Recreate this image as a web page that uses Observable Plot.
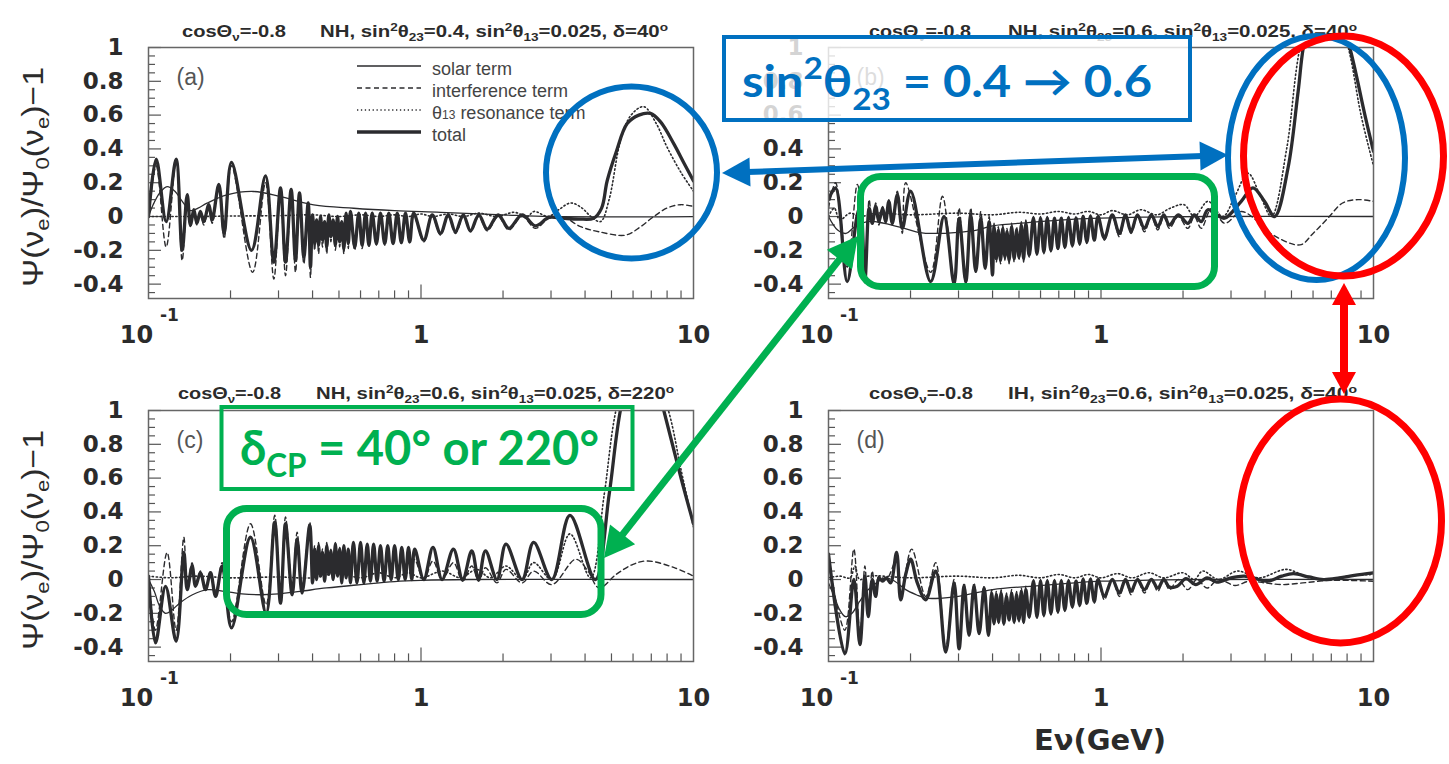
<!DOCTYPE html>
<html><head><meta charset="utf-8">
<script src="https://cdn.jsdelivr.net/npm/d3@7"></script>
<script src="https://cdn.jsdelivr.net/npm/@observablehq/plot@0.6"></script>
<style>
html,body{margin:0;padding:0;background:#fff}
body{width:1449px;height:764px;overflow:hidden;position:relative}
.pan{position:absolute}
#ov{position:absolute;left:0;top:0;pointer-events:none}
</style></head><body>
<div id="pa" class="pan" style="left:0;top:0"></div>
<div id="pb" class="pan" style="left:680px;top:0"></div>
<div id="pc" class="pan" style="left:0;top:363px"></div>
<div id="pd" class="pan" style="left:680px;top:363px"></div>
<svg id="ov" width="1449" height="764"></svg>
<script>
// ---------- axis ticks ----------
const yTicks = [-0.4, -0.2, 0, 0.2, 0.4, 0.6, 0.8, 1];
const yMinor = [-0.45, -0.35, -0.3, -0.25, -0.15, -0.1, -0.05, 0.05, 0.1, 0.15, 0.25, 0.3, 0.35, 0.45, 0.5, 0.55, 0.65, 0.7, 0.75, 0.85, 0.9, 0.95];
const xMajor = [1];
const xMinor = [0.2, 0.3, 0.4, 0.5, 0.6, 0.7, 0.8, 0.9, 2, 3, 4, 5, 6, 7, 8, 9];
const xLabels = [1, 10];

// ---------- panel (a): NH, sin2th23=0.4, delta=40 ----------
const aSolar = [[0.1,0.0],[0.104,0.07],[0.11,0.14],[0.117,0.177],[0.125,0.15],[0.133,0.09],[0.1426,0.035],[0.152,0.05],[0.164,0.079],[0.194,0.128],[0.243,0.148],[0.305,0.118],[0.404,0.069],[0.566,0.049],[0.8,0.035],[1.18,0.025],[2.0,0.01],[3.0,0.0],[10,0.0]];
const aInter = [[0.1,0.0],[0.1067,0.30],[0.1161,-0.18],[0.1263,0.33],[0.1329,-0.26],[0.1387,0.10],[0.1425,-0.06],[0.1467,0.03],[0.1505,-0.05],[0.155,0.02],[0.1595,-0.05],[0.1665,0.05],[0.1712,-0.04],[0.1812,0.17],[0.1895,-0.13],[0.2017,0.30],[0.241,-0.33],[0.2688,0.20],[0.2884,-0.37],[0.3051,0.14],[0.3183,-0.35],[0.3338,0.12],[0.3463,-0.33],[0.3582,0.10],[0.3716,-0.28],[0.3855,0.05],[0.393,-0.36],
 [0.40,0.0],[0.407,-0.2],[0.414,-0.03],[0.421,-0.22],[0.428,-0.01],[0.435,-0.18],[0.443,-0.04],[0.451,-0.22],[0.459,0.0],[0.467,-0.15],[0.476,-0.03],[0.485,-0.2],[0.494,-0.01],[0.503,-0.18],[0.512,-0.04],[0.521,-0.22],[0.531,0.01],[0.541,-0.19],[0.551,0.02],
 [0.571,-0.2],[0.591,0.01],[0.608,-0.19],[0.626,0.01],[0.644,-0.18],[0.662,0.01],[0.686,-0.17],[0.71,0.01],[0.736,-0.17],[0.762,0.01],[0.79,-0.16],[0.818,0.01],[0.847,-0.16],[0.877,0.01],[0.909,-0.155],[0.94,0.01],[1.024,-0.15],[1.10,0.0],[1.179,-0.11],[1.26,0.0],[1.338,-0.1],[1.43,0.0],[1.519,-0.09],[1.63,0.0],[1.75,-0.085],[1.92,0.0],[2.10,-0.08],[2.35,0.0],[2.63,-0.07],[2.95,-0.01],[3.3,0.0],[3.85,-0.06],[4.5,-0.09],[5.63,-0.11],[6.4,-0.06],[7.15,0.0],[8.0,0.05],[8.96,0.07],[10,0.06]];
const aReson = [[0.1,0.0],[0.15,0.0],[0.2,0.003],[0.3,0.005],[0.4,0.01],[0.5,0.0],[0.6,0.01],[0.7,0.0],[0.8,0.01],[0.9,0.0],[1.0,0.015],[1.1,0.0],[1.26,0.015],[1.43,0.0],[1.63,0.02],[1.9,0.0],[2.2,0.025],[2.45,0.0],[2.6,0.03],[2.93,0.0],[3.2,0.04],[3.54,0.08],[3.9,0.05],[4.2,0.0],[4.56,-0.03],[4.9,0.1],[5.4,0.45],[5.9,0.6],[6.57,0.65],[7.3,0.55],[8.0,0.41],[9.0,0.26],[10,0.15]];
const aTotal = [[0.1,0.0],[0.1067,0.34],[0.1161,-0.03],[0.1263,0.34],[0.1329,-0.20],[0.1387,0.13],[0.1425,-0.05],[0.1467,0.04],[0.1505,-0.04],[0.155,0.03],[0.1595,-0.03],[0.1665,0.07],[0.1712,-0.02],[0.1812,0.19],[0.1895,-0.10],[0.2017,0.32],[0.2388,-0.20],[0.2688,0.24],[0.2884,-0.27],[0.3051,0.17],[0.3183,-0.27],[0.3338,0.16],[0.3463,-0.26],[0.3582,0.14],[0.3716,-0.24],[0.3855,0.08],[0.393,-0.30],
 [0.40,0.01],[0.407,-0.16],[0.414,-0.02],[0.421,-0.17],[0.428,0.0],[0.435,-0.14],[0.443,-0.03],[0.451,-0.18],[0.459,0.01],[0.467,-0.12],[0.476,-0.02],[0.485,-0.17],[0.494,0.0],[0.503,-0.15],[0.512,-0.03],[0.521,-0.19],[0.531,0.02],[0.541,-0.16],[0.551,0.03],
 [0.571,-0.18],[0.591,0.02],[0.608,-0.17],[0.626,0.02],[0.644,-0.17],[0.662,0.02],[0.686,-0.16],[0.71,0.02],[0.736,-0.16],[0.762,0.02],[0.79,-0.16],[0.818,0.02],[0.847,-0.155],[0.877,0.02],[0.909,-0.15],[0.94,0.02],[1.024,-0.14],[1.10,0.01],[1.179,-0.10],[1.26,0.01],[1.338,-0.09],[1.43,0.01],[1.519,-0.085],[1.63,0.01],[1.75,-0.075],[1.92,0.01],[2.10,-0.07],[2.35,0.01],[2.63,-0.055],[2.95,-0.005],[3.3,-0.01],[3.8,-0.015],[4.3,-0.01],[4.6,0.05],[4.82,0.21],[5.2,0.38],[5.71,0.55],[6.3,0.60],[6.95,0.61],[7.57,0.56],[8.47,0.43],[9.2,0.32],[10,0.21]];

// ---------- panel (b): NH, sin2th23=0.6, delta=40 ----------
const bSolar = [[0.1,0.0],[0.108,-0.08],[0.116,-0.1],[0.125,-0.06],[0.14,-0.03],[0.16,-0.04],[0.19,-0.07],[0.215,-0.095],[0.25,-0.1],[0.29,-0.095],[0.35,-0.08],[0.4,-0.055],[0.55,-0.035],[0.8,-0.015],[1.0,-0.01],[1.5,-0.003],[2.5,0.0],[10,0.0]];
const bInter = [[0.1,0.05],[0.1061,0.2],[0.1171,-0.3],[0.1275,0.19],[0.131,0.1],[0.136,-0.4],[0.141,0.1],[0.1447,-0.05],[0.149,0.08],[0.1531,-0.05],[0.158,0.06],[0.162,-0.04],[0.1665,0.1],[0.1714,-0.05],[0.1789,0.15],[0.1866,-0.1],[0.192,0.2],[0.2371,-0.33],[0.262,0.12],[0.289,-0.4],[0.3015,0.05],[0.319,-0.4],[0.3327,0.05],[0.347,-0.33],[0.3621,0.03],[0.3757,-0.3],[0.3886,0.0],[0.3998,-0.35],
 [0.405,-0.04],[0.413,-0.27],[0.42,-0.06],[0.428,-0.28],[0.436,-0.05],[0.444,-0.26],[0.452,-0.07],[0.46,-0.28],[0.47,-0.04],[0.48,-0.27],[0.49,-0.06],[0.50,-0.26],[0.51,-0.03],[0.52,-0.27],[0.53,-0.02],[0.545,-0.24],
 [0.565,0.0],[0.582,-0.23],[0.60,0.0],[0.617,-0.22],[0.635,0.0],[0.655,-0.21],[0.675,0.0],[0.695,-0.2],[0.715,0.0],[0.737,-0.19],[0.76,0.0],[0.785,-0.18],[0.81,0.0],[0.835,-0.17],[0.86,0.01],[0.887,-0.16],[0.915,0.01],[0.945,-0.15],[0.975,0.01],[1.029,-0.14],[1.1,0.0],[1.168,-0.12],[1.23,0.0],[1.289,-0.1],[1.36,0.0],[1.443,-0.09],[1.53,0.0],[1.616,-0.08],[1.70,0.0],[1.783,-0.07],[1.92,0.0],[2.083,-0.07],[2.2,0.0],[2.333,-0.07],[2.55,0.05],[2.842,-0.04],[3.27,0.03],[3.7,-0.02],[4.1,-0.09],[5.37,-0.168],[6.0,-0.1],[6.8,-0.01],[7.7,0.08],[8.77,0.1],[10,0.09]];
const bReson = [[0.1,0.0],[0.105,0.05],[0.11,-0.02],[0.12,0.02],[0.13,0.0],[0.15,0.02],[0.2,0.01],[0.3,0.02],[0.4,0.01],[0.5,0.025],[0.6,0.015],[0.7,0.03],[0.8,0.015],[0.9,0.03],[1.0,0.01],[1.1,0.035],[1.25,0.01],[1.4,0.04],[1.6,0.01],[1.8,0.05],[2.02,0.07],[2.2,0.0],[2.47,0.09],[2.8,0.0],[3.1,0.12],[3.46,0.256],[3.85,0.12],[4.22,0.0],[4.8,0.4],[5.37,1.0],[6.5,1.5],[8.08,1.0],[9.0,0.6],[10,0.3]];
const bTotal = [[0.1,0.10],[0.1061,0.17],[0.1171,-0.385],[0.1275,0.01],[0.131,0.06],[0.136,-0.38],[0.141,0.05],[0.1447,-0.04],[0.149,0.06],[0.1531,-0.03],[0.158,0.05],[0.162,-0.03],[0.1665,0.09],[0.1714,-0.04],[0.1789,0.13],[0.1866,-0.07],[0.2002,0.15],[0.2371,-0.385],[0.2655,0.0],[0.289,-0.40],[0.3015,-0.01],[0.319,-0.385],[0.3327,0.01],[0.347,-0.325],[0.3621,-0.01],[0.3757,-0.306],[0.3886,-0.03],[0.3998,-0.345],
 [0.405,-0.06],[0.413,-0.25],[0.42,-0.08],[0.428,-0.26],[0.436,-0.07],[0.444,-0.24],[0.452,-0.09],[0.46,-0.26],[0.47,-0.06],[0.48,-0.25],[0.49,-0.08],[0.50,-0.24],[0.51,-0.05],[0.52,-0.25],[0.53,-0.04],[0.545,-0.23],
 [0.565,-0.01],[0.582,-0.22],[0.60,-0.01],[0.617,-0.21],[0.635,-0.01],[0.655,-0.2],[0.675,-0.01],[0.695,-0.19],[0.715,-0.01],[0.737,-0.18],[0.76,-0.01],[0.785,-0.17],[0.81,-0.01],[0.835,-0.16],[0.86,0.0],[0.887,-0.15],[0.915,0.0],[0.945,-0.14],[0.975,0.0],[1.029,-0.128],[1.1,0.01],[1.168,-0.10],[1.23,0.01],[1.289,-0.09],[1.36,0.01],[1.443,-0.07],[1.53,0.01],[1.616,-0.06],[1.70,0.01],[1.783,-0.05],[1.92,0.01],[2.083,-0.04],[2.2,0.01],[2.333,-0.03],[2.466,0.04],[2.65,0.01],[2.842,-0.01],[3.27,0.09],[3.609,0.17],[3.98,0.09],[4.34,0.0],[4.86,0.29],[5.29,0.74],[5.6,1.05],[6.7,1.45],[8.18,1.0],[9.3,0.6],[10,0.385]];

// ---------- panel (c): NH, sin2th23=0.6, delta=220 ----------
const cSolar = [[0.1,0.0],[0.105,-0.07],[0.11,-0.16],[0.1155,-0.2],[0.122,-0.18],[0.13,-0.14],[0.145,-0.09],[0.165,-0.06],[0.19,-0.07],[0.22,-0.085],[0.26,-0.09],[0.3,-0.085],[0.36,-0.07],[0.45,-0.05],[0.6,-0.03],[0.8,-0.012],[1.0,-0.005],[1.5,0.0],[10,0.0]];
const cInter = [[0.1,0.02],[0.106,-0.3],[0.117,0.16],[0.1263,-0.3],[0.1348,0.25],[0.1387,-0.03],[0.1446,0.1],[0.1488,-0.03],[0.1552,0.05],[0.1619,-0.05],[0.1689,0.05],[0.1763,-0.08],[0.1864,0.1],[0.2017,-0.25],[0.2367,0.33],[0.2702,-0.15],[0.2906,0.38],[0.3051,-0.1],[0.3183,0.37],[0.3367,-0.05],[0.3511,0.28],[0.366,-0.05],[0.3906,0.34],
 [0.40,0.0],[0.407,0.2],[0.414,0.02],[0.421,0.22],[0.428,0.04],[0.435,0.18],[0.443,0.01],[0.451,0.22],[0.459,0.05],[0.467,0.18],[0.476,0.02],[0.485,0.22],[0.494,0.04],[0.503,0.19],[0.512,0.0],[0.521,0.2],[0.531,0.02],[0.541,0.18],[0.551,0.0],
 [0.565,0.2],[0.582,0.0],[0.60,0.2],[0.617,0.0],[0.635,0.19],[0.652,0.0],[0.67,0.18],[0.69,0.0],[0.71,0.17],[0.732,0.0],[0.755,0.16],[0.777,0.0],[0.80,0.15],[0.825,0.0],[0.85,0.14],[0.875,0.0],[0.90,0.13],[0.925,0.0],[0.948,0.12],[1.024,0.0],[1.106,0.11],[1.195,0.0],[1.315,0.1],[1.422,-0.01],[1.536,0.08],[1.627,-0.01],[1.724,0.07],[1.9,-0.02],[2.05,0.06],[2.35,-0.02],[2.59,0.05],[3.02,-0.03],[3.7,0.12],[4.1,0.05],[4.5,-0.05],[5.2,0.03],[6.0,0.09],[6.8,0.11],[8.5,0.07],[10,0.02]];
const cReson = [[0.1,0.02],[0.12,0.01],[0.15,0.02],[0.2,0.01],[0.3,0.015],[0.4,0.01],[0.5,0.04],[0.6,0.01],[0.7,0.04],[0.8,0.01],[0.9,0.04],[1.0,0.01],[1.2,0.05],[1.4,0.01],[1.6,0.06],[1.8,0.01],[2.05,0.08],[2.35,0.0],[2.59,0.1],[3.02,0.0],[3.52,0.27],[4.19,0.01],[4.7,0.5],[5.19,1.0],[6.3,1.5],[8.09,1.0],[9.0,0.65],[10,0.31]];
const cTotal = [[0.1,0.02],[0.1061,-0.375],[0.1155,-0.04],[0.1263,-0.365],[0.1348,0.16],[0.1387,-0.06],[0.1446,0.08],[0.1488,-0.04],[0.1552,0.04],[0.1619,-0.06],[0.1689,0.04],[0.1763,-0.10],[0.1864,0.08],[0.2017,-0.286],[0.2367,0.25],[0.2702,-0.20],[0.2906,0.34],[0.3051,-0.14],[0.3183,0.33],[0.3367,-0.09],[0.3511,0.24],[0.366,-0.08],[0.3906,0.32],
 [0.40,-0.02],[0.407,0.18],[0.414,0.0],[0.421,0.2],[0.428,0.02],[0.435,0.16],[0.443,-0.01],[0.451,0.2],[0.459,0.03],[0.467,0.17],[0.476,0.0],[0.485,0.21],[0.494,0.02],[0.503,0.18],[0.512,-0.02],[0.521,0.2],[0.531,0.01],[0.541,0.18],[0.551,-0.02],
 [0.565,0.22],[0.582,-0.02],[0.60,0.22],[0.617,-0.02],[0.635,0.21],[0.652,-0.01],[0.67,0.21],[0.69,-0.01],[0.71,0.2],[0.732,-0.01],[0.755,0.2],[0.777,0.0],[0.80,0.2],[0.825,0.0],[0.85,0.19],[0.875,0.0],[0.90,0.19],[0.925,0.0],[0.948,0.18],[1.024,0.0],[1.106,0.19],[1.195,0.0],[1.315,0.18],[1.422,0.0],[1.536,0.17],[1.627,0.0],[1.724,0.17],[1.9,0.0],[2.05,0.21],[2.35,0.0],[2.59,0.22],[3.02,0.0],[3.52,0.38],[4.36,0.0],[4.9,0.5],[5.39,1.0],[6.4,1.5],[7.78,1.0],[9.0,0.6],[10,0.33]];

// ---------- panel (d): IH, sin2th23=0.6, delta=40 ----------
const dSolar = [[0.1,-0.02],[0.105,-0.1],[0.11,-0.18],[0.1155,-0.22],[0.122,-0.2],[0.13,-0.13],[0.14,-0.06],[0.15,-0.02],[0.162,0.01],[0.175,-0.01],[0.192,-0.06],[0.21,-0.09],[0.227,-0.11],[0.262,-0.11],[0.3,-0.1],[0.4,-0.06],[0.55,-0.04],[0.8,-0.02],[1.0,-0.01],[1.5,-0.003],[2.5,0.0],[10,0.0]];
const dInter = [[0.1,0.1],[0.1148,-0.3],[0.1239,0.18],[0.1304,-0.33],[0.136,0.08],[0.1399,-0.2],[0.1447,0.05],[0.1489,-0.08],[0.1531,0.02],[0.163,0.0],[0.1778,0.12],[0.184,-0.1],[0.2019,0.18],[0.2274,-0.1],[0.2474,0.1],[0.2692,-0.4],[0.289,0.0],[0.3015,-0.39],[0.3145,-0.02],[0.328,-0.32],[0.342,-0.02],[0.357,-0.3],[0.3725,-0.04],[0.3864,-0.32],
 [0.397,-0.06],[0.405,-0.27],[0.413,-0.07],[0.421,-0.26],[0.43,-0.06],[0.44,-0.27],[0.45,-0.08],[0.46,-0.25],[0.47,-0.06],[0.48,-0.26],[0.49,-0.07],[0.50,-0.25],[0.51,-0.05],[0.52,-0.26],[0.53,-0.04],[0.545,-0.23],
 [0.565,0.0],[0.582,-0.23],[0.60,0.0],[0.617,-0.22],[0.635,0.0],[0.655,-0.21],[0.675,0.0],[0.695,-0.2],[0.715,0.0],[0.737,-0.19],[0.76,0.0],[0.785,-0.17],[0.81,0.0],[0.835,-0.16],[0.86,0.01],[0.887,-0.15],[0.915,0.01],[0.945,-0.14],[0.975,0.01],[1.029,-0.12],[1.1,0.0],[1.168,-0.1],[1.23,0.0],[1.289,-0.09],[1.36,0.0],[1.443,-0.08],[1.53,0.0],[1.616,-0.07],[1.70,0.0],[1.783,-0.06],[1.92,0.0],[2.083,-0.06],[2.25,0.0],[2.45,-0.05],[2.7,0.0],[3.1,-0.035],[3.5,-0.01],[4.0,-0.02],[4.6,-0.03],[5.5,-0.02],[7.0,-0.005],[10,-0.01]];
const dReson = [[0.1,0.01],[0.11,0.02],[0.12,0.01],[0.125,0.08],[0.13,0.0],[0.14,0.02],[0.2,0.01],[0.3,0.02],[0.4,0.01],[0.5,0.025],[0.6,0.01],[0.7,0.03],[0.8,0.01],[0.9,0.03],[1.0,0.01],[1.15,0.035],[1.3,0.01],[1.5,0.04],[1.7,0.01],[2.0,0.04],[2.2,0.0],[2.36,0.05],[2.7,0.0],[3.17,0.05],[3.8,0.01],[4.79,0.06],[5.8,0.01],[6.8,0.0],[8.0,0.02],[10,0.03]];
const dTotal = [[0.1,0.15],[0.1148,-0.44],[0.1239,0.0],[0.1304,-0.385],[0.136,0.02],[0.1399,-0.22],[0.1447,0.0],[0.1489,-0.1],[0.1531,0.01],[0.158,-0.01],[0.163,0.01],[0.169,-0.02],[0.1778,0.16],[0.184,-0.12],[0.192,0.03],[0.2002,0.12],[0.2118,-0.02],[0.2274,-0.12],[0.2474,0.05],[0.2692,-0.43],[0.289,-0.02],[0.3015,-0.41],[0.3145,-0.04],[0.328,-0.33],[0.342,-0.04],[0.357,-0.32],[0.3725,-0.05],[0.3864,-0.33],
 [0.397,-0.08],[0.405,-0.26],[0.413,-0.09],[0.421,-0.25],[0.43,-0.08],[0.44,-0.26],[0.45,-0.1],[0.46,-0.24],[0.47,-0.08],[0.48,-0.25],[0.49,-0.09],[0.50,-0.24],[0.51,-0.07],[0.52,-0.25],[0.53,-0.06],[0.545,-0.22],
 [0.565,-0.01],[0.582,-0.22],[0.60,-0.01],[0.617,-0.21],[0.635,-0.01],[0.655,-0.2],[0.675,-0.01],[0.695,-0.19],[0.715,-0.01],[0.737,-0.18],[0.76,-0.01],[0.785,-0.16],[0.81,-0.01],[0.835,-0.15],[0.86,0.0],[0.887,-0.14],[0.915,0.0],[0.945,-0.13],[0.975,0.0],[1.029,-0.1],[1.1,0.0],[1.168,-0.08],[1.23,0.0],[1.289,-0.07],[1.36,0.0],[1.443,-0.06],[1.53,0.0],[1.616,-0.05],[1.70,0.0],[1.783,-0.045],[1.905,-0.04],[2.05,0.005],[2.228,-0.03],[2.45,0.01],[2.66,-0.015],[3.0,0.01],[3.36,0.02],[3.7,0.005],[4.09,-0.01],[4.6,0.02],[5.08,0.035],[5.8,0.015],[6.55,0.0],[7.5,0.01],[8.5,0.025],[10,0.04]];

const panels = [
  {id: "pa", label: "(a)", solar: aSolar, inter: aInter, reson: aReson, total: aTotal},
  {id: "pb", label: "(b)", solar: bSolar, inter: bInter, reson: bReson, total: bTotal},
  {id: "pc", label: "(c)", solar: cSolar, inter: cInter, reson: cReson, total: cTotal},
  {id: "pd", label: "(d)", solar: dSolar, inter: dInter, reson: dReson, total: dTotal}
];

const Y0 = -0.485, Y1 = 1;
const ink = "#2b2b2e";
function makePanel(p) {
  const lineOpts = {x: d => d[0], y: d => d[1], curve: "catmull-rom", clip: true, stroke: ink};
  return Plot.plot({
    width: 720, height: 340,
    marginLeft: 148, marginRight: 27, marginTop: 47, marginBottom: 42,
    style: {background: "transparent", overflow: "visible", color: "#2b2b2b", fontFamily: "'DejaVu Sans', sans-serif"},
    x: {type: "log", domain: [0.1, 10]},
    y: {domain: [Y0, Y1]},
    marks: [
      Plot.ruleX(xMinor, {x: d => d, y1: Y0, y2: Y0 + 0.045, stroke: "#555", strokeWidth: 1.2}),
      Plot.ruleX(xMajor, {x: d => d, y1: Y0, y2: Y0 + 0.08, stroke: "#555", strokeWidth: 1.2}),
      Plot.ruleY(yMinor, {y: d => d, x1: 0.1, x2: 0.1061, stroke: "#555", strokeWidth: 1.2}),
      Plot.ruleY(yTicks, {y: d => d, x1: 0.1, x2: 0.1116, stroke: "#555", strokeWidth: 1.2}),
      Plot.line(p.solar, {...lineOpts, strokeWidth: 1.3}),
      Plot.line(p.inter, {...lineOpts, strokeWidth: 1.4, strokeDasharray: "5,3.5"}),
      Plot.line(p.reson, {...lineOpts, strokeWidth: 1.6, strokeDasharray: "1.3,2.6"}),
      Plot.line(p.total, {...lineOpts, strokeWidth: 3.3}),
      Plot.frame({stroke: "#666", strokeWidth: 1.5}),
      Plot.axisY({ticks: yTicks, tickSize: 0, tickPadding: 25, label: null, tickFormat: d => String(d), fontSize: 23, fontWeight: "bold"}),
      Plot.axisX({ticks: xLabels, tickSize: 0, tickPadding: 27, label: null, tickFormat: d => String(d), fontSize: 24, fontWeight: "bold"}),
      Plot.text([0.1], {x: d => d, frameAnchor: "bottom", text: () => "10", dx: -12, dy: 27, lineAnchor: "top", fontSize: 24, fontWeight: "bold"}),
      Plot.text([0.1], {x: d => d, frameAnchor: "bottom", text: () => "-1", dx: 21, dy: 10, lineAnchor: "top", fontSize: 17, fontWeight: "bold"}),
      Plot.text([p.label], {frameAnchor: "top-left", dx: 28, dy: 21, lineAnchor: "top", textAnchor: "start", fontSize: 23, fill: "#555", fontFamily: "'Liberation Sans', sans-serif"})
    ]
  });
}
for (const p of panels) document.getElementById(p.id).appendChild(makePanel(p));

// ---------- overlay: titles, legend, axis titles, annotations ----------
function title(x1, x2, y, w1, w2, hier, th23, delta) {
  const f = `font-family="Liberation Sans, Arial, sans-serif" font-weight="bold" font-size="16.5" fill="#2b2b2b"`;
  return `<text x="${x1}" y="${y}" ${f} textLength="${w1}" lengthAdjust="spacingAndGlyphs">cosΘ<tspan font-size="11" dy="4">ν</tspan><tspan dy="-4">=-0.8</tspan></text>` +
    `<text x="${x2}" y="${y}" ${f} textLength="${w2}" lengthAdjust="spacingAndGlyphs">${hier}, sin<tspan font-size="11" dy="-6">2</tspan><tspan dy="6">θ</tspan><tspan font-size="11" dy="4">23</tspan><tspan dy="-4">=${th23}, sin</tspan><tspan font-size="11" dy="-6">2</tspan><tspan dy="6">θ</tspan><tspan font-size="11" dy="4">13</tspan><tspan dy="-4">=0.025, δ=${delta}</tspan><tspan font-size="11" dy="-6">o</tspan></text>`;
}
function yTitle(cx, cy) {
  return `<text transform="translate(${cx},${cy}) rotate(-90)" text-anchor="middle" font-family="Liberation Sans, Arial, sans-serif" font-size="29" fill="#2b2b2b" textLength="220" lengthAdjust="spacingAndGlyphs">Ψ(ν<tspan font-size="19" dy="6">e</tspan><tspan dy="-6">)/Ψ</tspan><tspan font-size="19" dy="6">0</tspan><tspan dy="-6">(ν</tspan><tspan font-size="19" dy="6">e</tspan><tspan dy="-6">)−1</tspan></text>`;
}
function dblArrow(x1, y1, x2, y2, color, w, hl, hw) {
  const dx = x2 - x1, dy = y2 - y1, L = Math.hypot(dx, dy), ux = dx / L, uy = dy / L, px = -uy, py = ux;
  const head = (tx, ty, dir) => {
    const bx = tx - dir * ux * hl, by = ty - dir * uy * hl;
    return `<polygon points="${tx},${ty} ${bx + px * hw},${by + py * hw} ${bx - px * hw},${by - py * hw}" fill="${color}"/>`;
  };
  return `<line x1="${x1 + ux * hl * 0.9}" y1="${y1 + uy * hl * 0.9}" x2="${x2 - ux * hl * 0.9}" y2="${y2 - uy * hl * 0.9}" stroke="${color}" stroke-width="${w}"/>` + head(x2, y2, 1) + head(x1, y1, -1);
}
const legendItems = [
  {label: "solar term", y: 66, w: 1.3, dash: null},
  {label: "interference term", y: 88, w: 1.4, dash: "5,3.5"},
  {label: "reson", y: 110, w: 1.6, dash: "1.3,2.6"},
  {label: "total", y: 132, w: 3.3, dash: null}
];
let legend = "";
for (const it of legendItems) {
  legend += `<line x1="357" x2="421" y1="${it.y}" y2="${it.y}" stroke="${ink}" stroke-width="${it.w}" ${it.dash ? `stroke-dasharray="${it.dash}"` : ""}/>`;
  const txt = it.label === "reson" ? `θ<tspan font-size="12">13</tspan> resonance term` : it.label;
  legend += `<text x="432" y="${it.y + 9}" font-family="Liberation Sans, Arial, sans-serif" font-size="18" fill="#444">${txt}</text>`;
}
const BLUE = "#0070C0", GREEN = "#00B050", RED = "#FF0000";
const xTitle = `<text x="%X" y="750" text-anchor="middle" font-family="DejaVu Sans, sans-serif" font-weight="bold" font-size="29" fill="#2b2b2b">Eν(GeV)</text>`;
let ov = "";
ov += title(182, 320, 37, 104, 348, "NH", "0.4", "40");
ov += title(869, 1008, 37, 102, 349, "NH", "0.6", "40");
ov += title(178, 316, 399, 103, 358, "NH", "0.6", "220");
ov += title(869, 1008, 399, 104, 349, "IH", "0.6", "40");
ov += legend;
ov += yTitle(43, 177) + yTitle(43, 540);
ov += xTitle.replace("%X", 1100);
ov += `<defs><clipPath id="cut"><rect x="0" y="0" width="700" height="728"/></clipPath></defs><g clip-path="url(#cut)">${xTitle.replace("%X", 420)}</g>`;
// blue box with text
ov += `<rect x="724" y="37" width="466" height="83" fill="#fff" fill-opacity="0.8" stroke="${BLUE}" stroke-width="4"/>`;
ov += `<text x="742" y="97" font-family="Lato, 'Open Sans', sans-serif" font-weight="bold" font-size="44" fill="${BLUE}" textLength="410" lengthAdjust="spacingAndGlyphs">sin<tspan font-size="30" dy="-18">2</tspan><tspan dy="18">θ</tspan><tspan font-size="30" dy="13">23</tspan><tspan dy="-13"> = 0.4 → 0.6</tspan></text>`;
// green text box
ov += `<rect x="221.5" y="407" width="411" height="82" fill="none" stroke="${GREEN}" stroke-width="4"/>`;
ov += `<text x="240" y="465" font-family="Lato, 'Open Sans', sans-serif" font-weight="bold" font-size="48" fill="${GREEN}" textLength="359" lengthAdjust="spacingAndGlyphs">δ<tspan font-size="32" dy="12">CP</tspan><tspan dy="-12"> = 40° or 220°</tspan></text>`;
// rounded green boxes
ov += `<rect x="860.5" y="176.5" width="354" height="110" rx="20" fill="none" stroke="${GREEN}" stroke-width="7"/>`;
ov += `<rect x="226.5" y="508.5" width="374.5" height="106" rx="20" fill="none" stroke="${GREEN}" stroke-width="7"/>`;
// ellipses
ov += `<ellipse cx="631.5" cy="172.5" rx="85.5" ry="86" fill="none" stroke="${BLUE}" stroke-width="6"/>`;
ov += `<ellipse cx="1316.5" cy="158" rx="88.5" ry="122" fill="none" stroke="${BLUE}" stroke-width="6"/>`;
ov += `<ellipse cx="1343.5" cy="156" rx="100" ry="120" fill="none" stroke="${RED}" stroke-width="7"/>`;
ov += `<ellipse cx="1340.5" cy="521" rx="101" ry="122" fill="none" stroke="${RED}" stroke-width="7"/>`;
// arrows
ov += dblArrow(722, 173, 1228, 155, BLUE, 6, 28, 14.5);
ov += dblArrow(604, 558, 858, 236, GREEN, 7, 30, 16);
ov += dblArrow(1344, 283, 1344, 394, RED, 8, 22, 12);
document.getElementById("ov").innerHTML = ov;
</script>
</body></html>
